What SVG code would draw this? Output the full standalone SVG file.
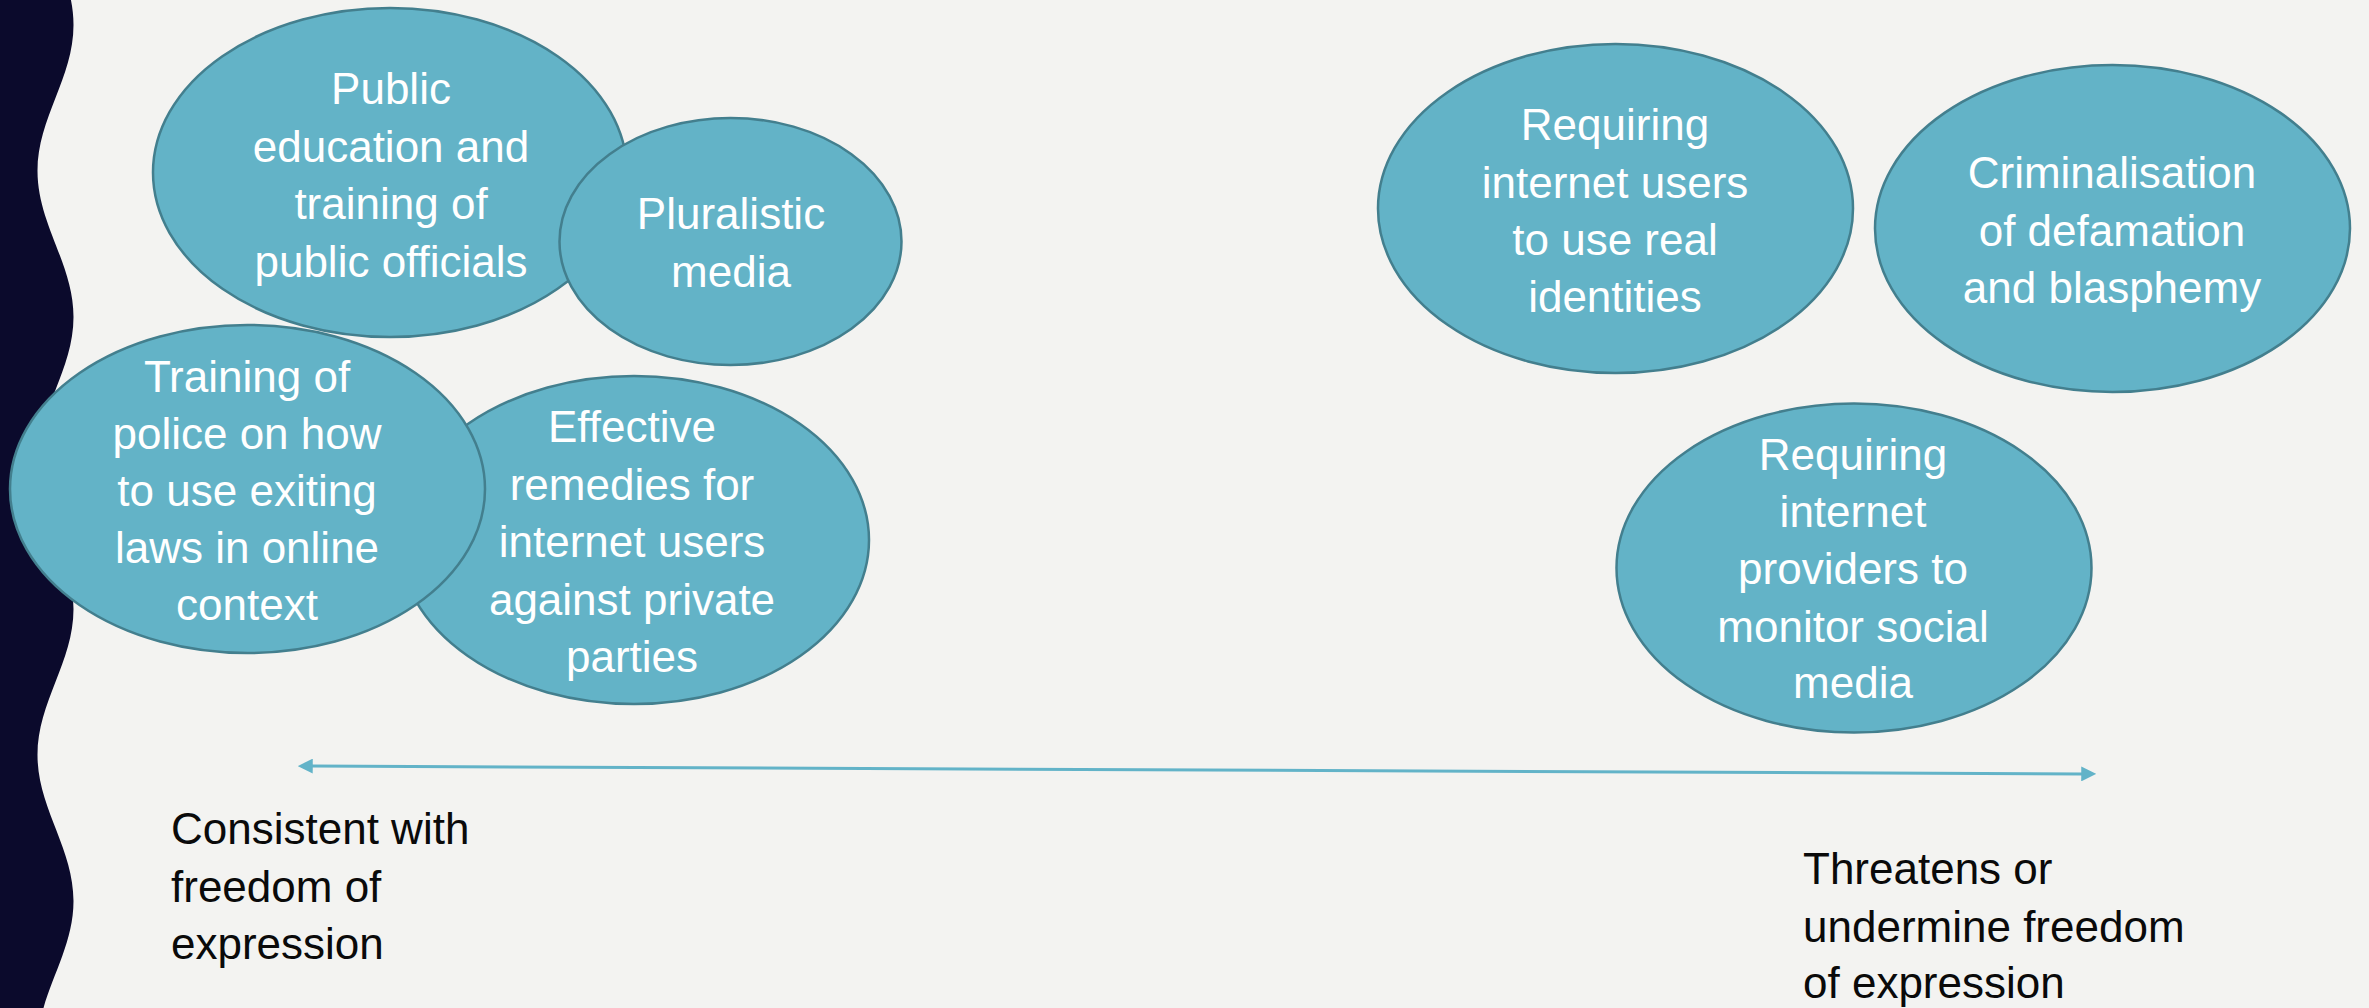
<svg xmlns="http://www.w3.org/2000/svg" width="2369" height="1008" viewBox="0 0 2369 1008">
  <style>
    .bubble { fill: #63b3c7; stroke: #437f8e; stroke-width: 2.5; }
    .btext { fill: #ffffff; font-family: "Liberation Sans", Arial, sans-serif; font-size: 44px; text-anchor: middle; }
    .label { fill: #0a0a0a; font-family: "Liberation Sans", Arial, sans-serif; font-size: 44px; }
    .axis { stroke: #62b3c8; stroke-width: 3; fill: none; }
  </style>
  <defs>
    <marker id="arrowhead" viewBox="0 0 10 10" refX="0.5" refY="5" markerUnits="userSpaceOnUse" markerWidth="15" markerHeight="15" orient="auto-start-reverse">
      <path d="M0,0 L10,5 L0,10 Z" fill="#62b3c8"/>
    </marker>
  </defs>

  <rect id="background" x="0" y="0" width="2369" height="1008" fill="#f3f3f1"/>
  <path id="wave" fill="#0b0a2c" d="M0,-121 L37.5,-121 C37.5,-67.9 73.5,-28.1 73.5,25 C73.5,78.1 37.5,117.9 37.5,171 C37.5,224.1 73.5,263.9 73.5,317 C73.5,370.1 37.5,409.9 37.5,463 C37.5,516.1 73.5,555.9 73.5,609 C73.5,662.1 37.5,701.9 37.5,755 C37.5,808.1 73.5,847.9 73.5,901 C73.5,954.1 37.5,993.9 37.5,1047 L0,1047 Z"/>

  <g id="node-public-education">
    <ellipse class="bubble" cx="390" cy="172.5" rx="237" ry="164.5"/>
    <text class="btext"><tspan x="391" y="104">Public</tspan><tspan x="391" y="162">education and</tspan><tspan x="391" y="219">training of</tspan><tspan x="391" y="277">public officials</tspan></text>
  </g>

  <g id="node-pluralistic-media">
    <ellipse class="bubble" cx="730.5" cy="241.5" rx="171" ry="123.5"/>
    <text class="btext"><tspan x="731" y="229">Pluralistic</tspan><tspan x="731" y="287">media</tspan></text>
  </g>

  <g id="node-effective-remedies">
    <ellipse class="bubble" cx="634" cy="540" rx="235" ry="164"/>
    <text class="btext"><tspan x="632" y="442">Effective</tspan><tspan x="632" y="499.5">remedies for</tspan><tspan x="632" y="557">internet users</tspan><tspan x="632" y="614.5">against private</tspan><tspan x="632" y="672">parties</tspan></text>
  </g>

  <g id="node-training-police">
    <ellipse class="bubble" cx="247.5" cy="489" rx="237.5" ry="164"/>
    <text class="btext"><tspan x="247" y="392">Training of</tspan><tspan x="247" y="448.5">police on how</tspan><tspan x="247" y="505.5">to use exiting</tspan><tspan x="247" y="563">laws in online</tspan><tspan x="247" y="620">context</tspan></text>
  </g>

  <g id="node-real-identities">
    <ellipse class="bubble" cx="1615.5" cy="208.5" rx="237.5" ry="164.5"/>
    <text class="btext"><tspan x="1615" y="140">Requiring</tspan><tspan x="1615" y="198">internet users</tspan><tspan x="1615" y="255">to use real</tspan><tspan x="1615" y="312">identities</tspan></text>
  </g>

  <g id="node-criminalisation">
    <ellipse class="bubble" cx="2112.5" cy="228.5" rx="237.5" ry="163.5"/>
    <text class="btext"><tspan x="2112" y="188">Criminalisation</tspan><tspan x="2112" y="246">of defamation</tspan><tspan x="2112" y="303">and blasphemy</tspan></text>
  </g>

  <g id="node-monitor-social-media">
    <ellipse class="bubble" cx="1854" cy="568" rx="237.5" ry="164.5"/>
    <text class="btext"><tspan x="1853" y="470">Requiring</tspan><tspan x="1853" y="527">internet</tspan><tspan x="1853" y="584">providers to</tspan><tspan x="1853" y="642">monitor social</tspan><tspan x="1853" y="698">media</tspan></text>
  </g>

  <g id="connectors">
    <line class="axis" x1="312" y1="766.1" x2="2082" y2="773.9" marker-start="url(#arrowhead)" marker-end="url(#arrowhead)"/>
  </g>

  <g id="label-consistent">
    <text class="label"><tspan x="171" y="844">Consistent with</tspan><tspan x="171" y="902">freedom of</tspan><tspan x="171" y="959">expression</tspan></text>
  </g>
  <g id="label-threatens">
    <text class="label"><tspan x="1803" y="884">Threatens or</tspan><tspan x="1803" y="942">undermine freedom</tspan><tspan x="1803" y="998">of expression</tspan></text>
  </g>
</svg>
